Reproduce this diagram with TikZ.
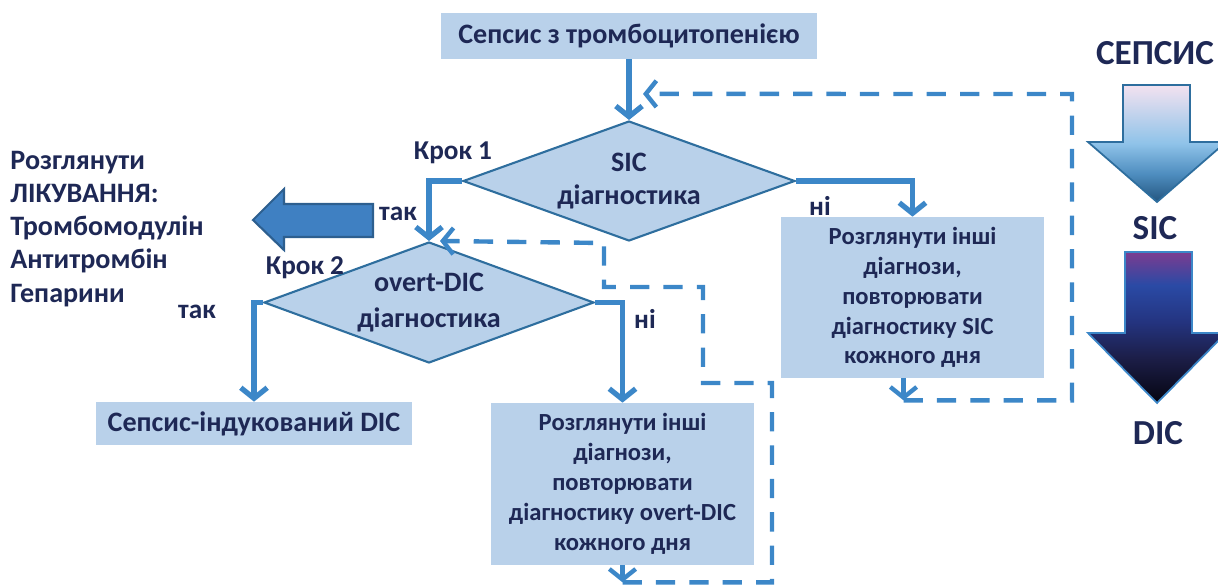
\documentclass[tikz,border=0pt]{standalone}
\usepackage{fontspec}
\setmainfont{Carlito}
\usetikzlibrary{arrows.meta,shapes.geometric,calc}
\definecolor{sbox}{RGB}{185,209,234}
\definecolor{sline}{RGB}{60,135,200}
\definecolor{sedge}{RGB}{46,110,158}
\definecolor{stext}{RGB}{30,40,85}
\definecolor{sbig}{RGB}{63,128,194}
\definecolor{sbigedge}{RGB}{45,95,143}
\definecolor{fadetop}{RGB}{243,226,240}
\definecolor{fademid}{RGB}{143,195,233}
\definecolor{fadelow}{RGB}{78,141,191}
\definecolor{fadetip}{RGB}{36,85,127}
\definecolor{darktop}{RGB}{124,60,144}
\definecolor{darkblue}{RGB}{42,74,165}
\definecolor{darkmid}{RGB}{36,52,128}
\definecolor{darknavy}{RGB}{28,30,72}
\definecolor{darktip}{RGB}{5,5,16}
\pgfdeclareverticalshading{sepsisfade}{100bp}{color(0bp)=(fadetip); color(25bp)=(fadetip);
  color(37bp)=(fadelow); color(50bp)=(fademid); color(75bp)=(fadetop); color(100bp)=(fadetop)}
\pgfdeclareverticalshading{dicfade}{100bp}{color(0bp)=(darktip); color(25bp)=(darktip);
  color(40bp)=(darknavy); color(52bp)=(darkmid); color(64bp)=(darkblue); color(75bp)=(darktop); color(100bp)=(darktop)}

\begin{document}
\begin{tikzpicture}[x=0.02cm, y=-0.02cm,
  every node/.style={text=stext, font=\bfseries\fontsize{15.5}{17}\selectfont},
  box/.style={fill=sbox, inner sep=0pt, align=center},
  decision/.style={diamond, draw=sedge, line width=1.2pt, fill=sbox, aspect=2.77, inner sep=0pt,
    minimum width=6.64cm, minimum height=2.4cm, align=center, font=\bfseries\fontsize{16}{18.5}\selectfont},
  flow/.style={sline, line width=3pt, -{Straight Barb[length=6pt,width=15pt]}},
  back/.style={sline, line width=2.5pt, dash pattern=on 11pt off 8pt, -{Straight Barb[length=6pt,width=15pt]}}]
  \useasboundingbox (0,0) rectangle (1218,585);

  % flowchart
  \node[box, minimum width=7.54cm, minimum height=0.92cm, font=\bfseries\fontsize{16}{18}\selectfont] (top) at (629,36) {Сепсис з тромбоцитопенією};
  \node[decision] (sicdiag) at (629,181) {SIC\\діагностика};
  \node[decision, minimum width=6.6cm, minimum height=2.42cm, font=\bfseries\fontsize{16}{20}\selectfont] (dicdiag) at (429,302.5) {overt-DIC\\діагностика};
  \node[box, minimum width=6.32cm, minimum height=0.86cm, font=\bfseries\fontsize{16}{18}\selectfont] (dicbox) at (254,423.5) {Сепсис-індукований DIC};
  \node[box, minimum width=5.26cm, minimum height=3.24cm, font=\bfseries\fontsize{14}{17}\selectfont] (otherdic) at (622.5,484)
    {Розглянути інші\\діагнози,\\повторювати\\діагностику overt-DIC\\кожного дня};
  \node[box, minimum width=5.26cm, minimum height=3.22cm, font=\bfseries\fontsize{14}{17}\selectfont] (othersic) at (912.5,297.5)
    {Розглянути інші\\діагнози,\\повторювати\\діагностику SIC\\кожного дня};

  \draw[flow] (top) -- (sicdiag);
  \draw[flow] (sicdiag.west) -| (dicdiag.north);
  \draw[flow] (sicdiag.east) -| (othersic.north);
  \draw[flow] (dicdiag.west) -| (dicbox.north);
  \draw[flow] (dicdiag.east) -| (otherdic.north);

  \node (step1) at (453,153) {Крок 1};
  \node (step2) at (305,268) {Крок 2};
  \node (yes1) at (398,214) {так};
  \node (yes2) at (197,312) {так};
  \node (no1) at (820,206) {ні};
  \node (no2) at (645,319) {ні};

  % repeat loops
  \coordinate (d1) at ($(otherdic.south)+(0,17)$);
  \coordinate (d2) at ($(othersic.south)+(-9,22)$);
  \draw[back] (otherdic.south) -- (d1);
  \draw[back] (d1) -| (772,383) -| (703,287) -| (604,243) -- ($(dicdiag.north)+(11,0)$);
  \draw[back] ($(othersic.south)+(-9,0)$) -- (d2);
  \draw[back] (d2) -| (1072,94) -- ($(top.south)!0.57!(sicdiag.north)+(14,0)$);

  % treatment
  \filldraw[fill=sbig, draw=sbigedge, line width=1.2pt] (373,204) -- (284,204) -- (284,189) -- (253,220)
    -- (284,250) -- (284,237) -- (373,237) -- cycle;
  \node[anchor=north west, align=left, inner sep=0pt, font=\bfseries\fontsize{16}{18.85}\selectfont] (treat) at (10,151)
    {Розглянути\\ЛІКУВАННЯ:\\Тромбомодулін\\Антитромбін\\Гепарини};

  % progression
  \node[font=\bfseries\fontsize{20}{24}\selectfont] (sepsis) at (1155,53) {СЕПСИС};
  \shadedraw[shading=sepsisfade, draw=sedge, line width=1pt] (1123,85) -- (1190,85) -- (1190,142) -- (1226,142)
    -- (1157,202) -- (1088,142) -- (1123,142) -- cycle;
  \node[font=\bfseries\fontsize{20}{24}\selectfont] (sic) at (1155,228) {SIC};
  \shadedraw[shading=dicfade, draw=sline, line width=1pt] (1125,252) -- (1192,252) -- (1192,333) -- (1226,333)
    -- (1157,403) -- (1088,333) -- (1125,333) -- cycle;
  \node[font=\bfseries\fontsize{20}{24}\selectfont] (dic) at (1158,433) {DIC};
\end{tikzpicture}
\end{document}
